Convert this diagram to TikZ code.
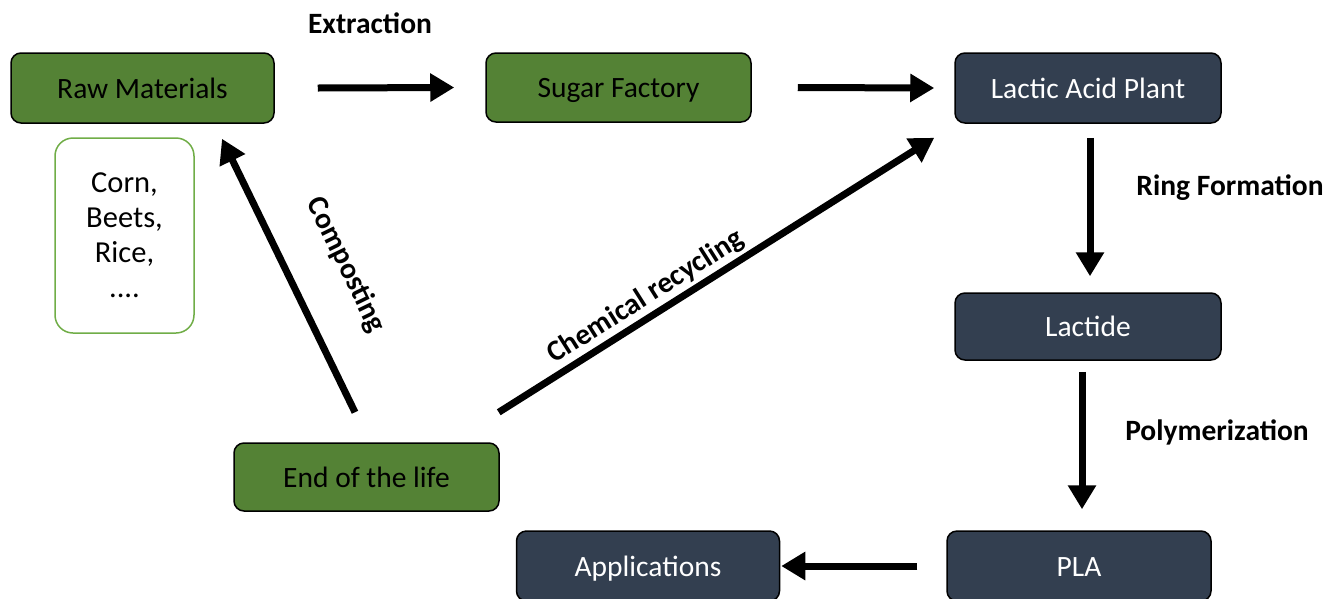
\documentclass[tikz,border=0pt]{standalone}
\usepackage{fontspec}
\setmainfont{Carlito}
\usetikzlibrary{arrows.meta}
\definecolor{boxgreen}{HTML}{548235}
\definecolor{boxdark}{HTML}{333F50}
\definecolor{lightgreen}{HTML}{70AD47}
\begin{document}
\begin{tikzpicture}[x=1pt,y=-1pt,
  box/.style={draw=black,line width=1.5pt,rounded corners=10pt,inner sep=0pt,text height=22pt,text depth=1.5pt,font=\fontsize{29.5}{34}\selectfont},
  gbox/.style={box,fill=boxgreen,text=black},
  dbox/.style={box,fill=boxdark,text=white},
  arr/.style={line width=7pt,-{Triangle[length=24pt,width=27pt]}},
  lbl/.style={font=\bfseries\fontsize{29.5}{34}\selectfont,inner sep=0pt}]
\useasboundingbox (0,0) rectangle (1341,598);
\node[gbox,minimum width=263pt,minimum height=70pt] (raw) at (142.5,88) {Raw Materials};
\node[draw=lightgreen,line width=1.5pt,rounded corners=18pt,fill=white,minimum width=139pt,minimum height=195pt,align=center,font=\fontsize{30.5}{35}\selectfont] (corn) at (124.5,235.5) {Corn,\\Beets,\\Rice,\\....};
\node[gbox,minimum width=265pt,minimum height=69pt] (sugar) at (618.5,87.5) {Sugar Factory};
\node[dbox,minimum width=266pt,minimum height=70pt] (lactic) at (1088,88) {Lactic Acid Plant};
\node[dbox,minimum width=266pt,minimum height=67pt] (lactide) at (1088,326.5) {Lactide};
\node[dbox,minimum width=264pt,minimum height=70pt] (pla) at (1079,566) {PLA};
\node[dbox,minimum width=263pt,minimum height=70pt] (app) at (648,566) {Applications};
\node[gbox,minimum width=265pt,minimum height=68pt] (end) at (366.5,477) {End of the life};

\draw[arr] ([xshift=43pt]raw.east) -- ([xshift=-31pt]sugar.west);
\draw[arr] ([xshift=46pt]sugar.east) -- ([xshift=-20pt]lactic.west);
\draw[arr] ([shift={(2,14)}]lactic.south) -- ([shift={(2,-16)}]lactide.north);
\draw[arr] ([shift={(-6,11)}]lactide.south) -- ([shift={(3,-21)}]pla.north);
\draw[arr] ([xshift=-29pt]pla.west) -- ([xshift=1pt]app.east);
\draw[arr] ([shift={(-11.5,-30)}]end.north) -- ([shift={(79.5,15)}]raw.south);
\draw[arr] ([shift={(-1,-30)}]end.north east) -- ([shift={(-20,14)}]lactic.south west);

\node[lbl] (ext) at (370,23) {Extraction};
\node[lbl] (ring) at (1230,188) {Ring Formation};
\node[lbl] (poly) at (1217,432) {Polymerization};
\node[lbl,rotate=-64] (comp) at (346,265) {Composting};
\node[lbl,rotate=32.3] (chem) at (646,297) {Chemical recycling};
\end{tikzpicture}
\end{document}
